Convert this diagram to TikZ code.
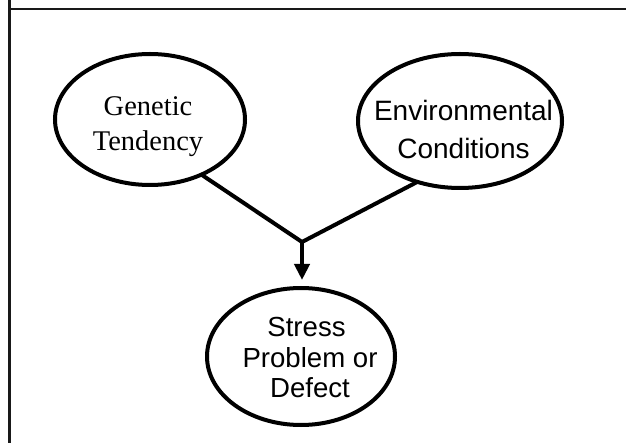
\documentclass[tikz,border=0pt]{standalone}
\usepackage{fontspec}
\setmainfont{Liberation Serif}
\newfontfamily\arialf{Liberation Sans}
\usetikzlibrary{shapes.geometric,arrows.meta}
\begin{document}
\begin{tikzpicture}[x=1pt,y=-1pt,
  oval/.style={ellipse,draw=black,line width=4pt,inner sep=0pt,outer sep=0pt},
  lbl/.style={inner sep=0pt,align=center,text=black},
  conn/.style={line width=4pt,line join=miter},
  frameln/.style={line width=2.4pt,draw=black!90}]
\useasboundingbox (0,0) rectangle (626,443);
\fill[white] (0,0) rectangle (626,443);
% frame
\coordinate (ftl) at (9.5,0);
\coordinate (fbl) at (9.5,443);
\coordinate (fhl) at (9.5,9);
\coordinate (fhr) at (626,9);
\draw[frameln] (ftl) -- (fbl);
\draw[frameln] (fhl) -- (fhr);
% ellipses
\node[oval,minimum width=190pt,minimum height=131pt] (gen) at (150,119.5) {};
\node[oval,minimum width=204pt,minimum height=134pt] (env) at (460,121) {};
\node[oval,minimum width=188pt,minimum height=137pt] (stress) at (301,356.5) {};
% texts
\node[lbl,font={\fontsize{28.5}{35}\selectfont}] (gent) at (148,127) {Genetic\\Tendency};
\node[lbl,font={\arialf\fontsize{28}{38}\selectfont}] (envt) at (463.5,129.5) {Environmental\\Conditions};
\node[lbl,font={\arialf\fontsize{27.6}{30.5}\selectfont}] (stresst) at (310,357.5) {Stress\hspace*{7pt}\\Problem or\\Defect};
% connectors
\coordinate (j) at (302,242);
\draw[conn] (gen.-47) -- (j) -- (env.-125);
\draw[line width=4pt,-{Triangle[width=15pt,length=16pt]}] (j) -- ([yshift=8pt]stress.north -| j);
\end{tikzpicture}
\end{document}
